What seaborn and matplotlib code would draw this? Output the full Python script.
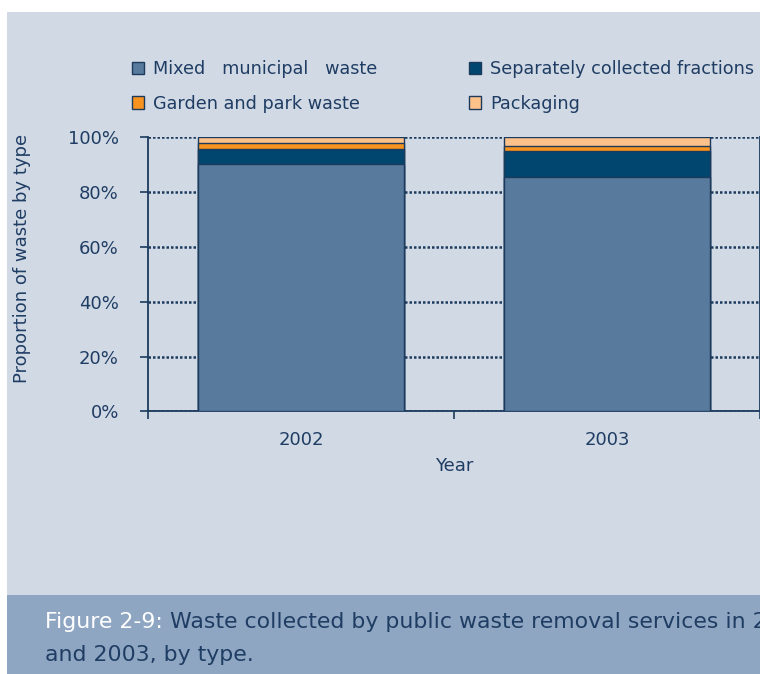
import matplotlib
matplotlib.use("Agg")
import matplotlib.pyplot as plt
from matplotlib.patches import Patch, Rectangle
import numpy as np
import pandas as pd
import seaborn as sns

# Share of collected waste by type (percent)
years = ["2002", "2003"]
waste_types = ["Mixed   municipal   waste", "Separately collected fractions",
               "Garden and park waste", "Packaging"]
mixed = [90.1, 85.3]
separate = [5.5, 9.7]
garden = [2.2, 1.8]
packaging = [2.2, 3.2]
y_ticks = [0, 20, 40, 60, 80, 100]
y_tick_labels = ["0%", "20%", "40%", "60%", "80%", "100%"]

colors = ["#587A9C", "#00466E", "#F7931E", "#FDC28A"]
navy = "#1B3A5C"
text_col = "#1F3D63"
panel_bg = "#D1D9E5"
band_bg = "#8FA6C3"

sns.set_theme(style="white")
plt.rcParams["font.family"] = ["DejaVu Sans"]

df = pd.DataFrame({"Year": years, "mixed": mixed, "separate": separate,
                   "garden": garden, "packaging": packaging})
layers = ["mixed", "separate", "garden", "packaging"]
cum = df[layers].cumsum(axis=1)

fig = plt.figure(figsize=(7.6, 6.74), dpi=100, facecolor="white")

# panel and caption band
fig.patches.append(Rectangle((7 / 760, 0.117), 1, 0.982 - 0.117, transform=fig.transFigure,
                             facecolor=panel_bg, edgecolor="none", zorder=-10))
fig.patches.append(Rectangle((7 / 760, 0.0), 1, 0.117, transform=fig.transFigure,
                             facecolor=band_bg, edgecolor="none", zorder=-10))

ax = fig.add_axes([148 / 760, 0.3895, 612 / 760, 0.4072])
ax.set_facecolor(panel_bg)

# stacked bars: draw cumulative totals from the top layer down
for layer, col in zip(reversed(layers), reversed(colors)):
    plot_df = pd.DataFrame({"Year": years, "value": cum[layer]})
    sns.barplot(data=plot_df, x="Year", y="value", color=col, width=0.67,
                edgecolor=navy, linewidth=1.0, saturation=1, ax=ax, zorder=3)

ax.set_xlim(-0.5, 1.5)
ax.set_ylim(0, 100)
ax.set_yticks(y_ticks)
ax.set_yticklabels(y_tick_labels)
ax.yaxis.grid(True, linestyle=(0, (1, 0.8)), color=navy, linewidth=1.8, zorder=0)
ax.xaxis.grid(False)
ax.set_axisbelow(True)

for s in ["left", "bottom", "right"]:
    ax.spines[s].set_visible(True)
    ax.spines[s].set_color(navy)
    ax.spines[s].set_linewidth(1.3)
ax.spines["top"].set_visible(False)

ax.tick_params(axis="y", which="major", direction="out", length=6, width=1.2,
               color=navy, labelcolor=text_col, labelsize=13, pad=15, left=True)
ax.tick_params(axis="x", which="major", length=0, labelcolor=text_col, labelsize=13, pad=14)
ax.set_xticks([-0.5, 0.5, 1.5], minor=True)
ax.tick_params(axis="x", which="minor", direction="out", length=6, width=1.2, color=navy,
               bottom=True)

ax.set_xlabel("Year", color=text_col, fontsize=13, labelpad=6)
ax.set_ylabel("")
fig.text(22 / 760, 1 - 258 / 674, "Proportion of waste by type", rotation=90,
         ha="center", va="center", color=text_col, fontsize=13)

# legend, filled row by row
handles = [Patch(facecolor=c, edgecolor=navy, linewidth=1.0) for c in colors]
order = [0, 2, 1, 3]
fig.legend([handles[i] for i in order], [waste_types[i] for i in order], ncol=2,
           loc="upper left", bbox_to_anchor=(116 / 760, 1 - 44 / 674), frameon=False,
           fontsize=12.7, labelcolor=text_col, handlelength=0.7, handleheight=0.7,
           handletextpad=0.5, columnspacing=5.2, labelspacing=0.95)

# caption: white figure number followed by navy text
cap_size = 15.8
t1 = fig.text(45 / 760, 1 - 622 / 674, "Figure 2-9:", color="white", fontsize=cap_size,
              va="center", ha="left")
fig.canvas.draw()
bb = t1.get_window_extent(renderer=fig.canvas.get_renderer())
x_next = bb.x1 / fig.bbox.width
fig.text(x_next, 1 - 622 / 674,
         " Waste collected by public waste removal services in 2002",
         color=text_col, fontsize=cap_size, va="center", ha="left")
fig.text(45 / 760, 1 - 655 / 674, "and 2003, by type.", color=text_col, fontsize=cap_size,
         va="center", ha="left")

fig.savefig("out.png", dpi=100, facecolor="white")
